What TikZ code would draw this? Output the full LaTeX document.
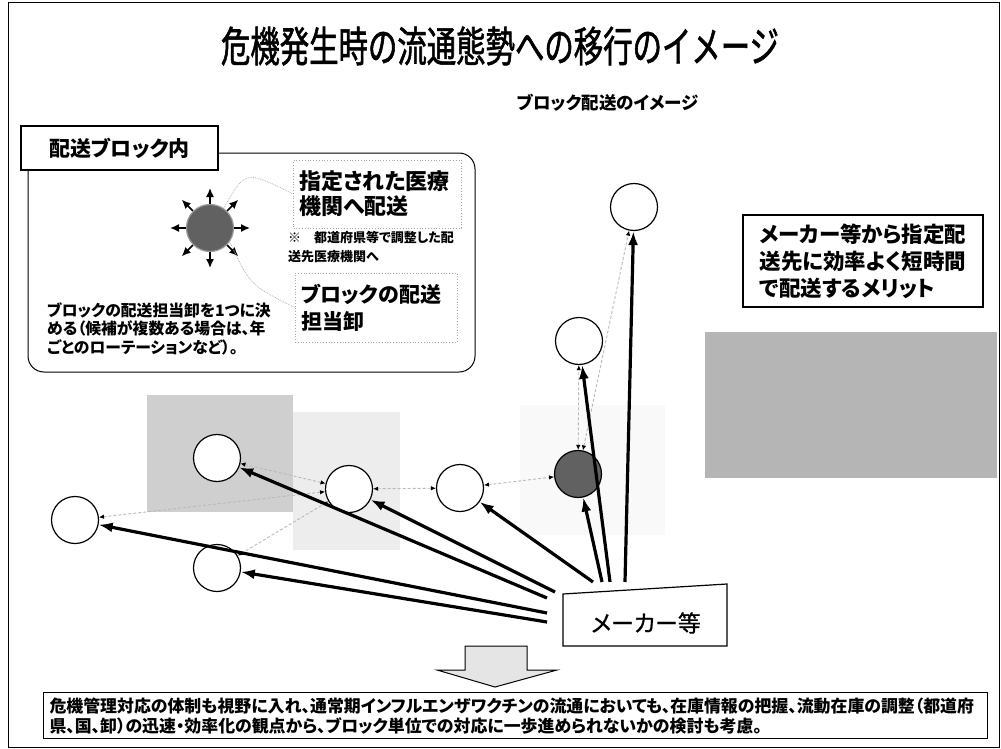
\documentclass[tikz,border=0pt]{standalone}
\usepackage{fontspec}
\setmainfont{Noto Sans CJK JP}[RawFeature={+palt}]
\newfontfamily\titlefont{Noto Sans CJK JP}[FakeStretch=0.7, FakeBold=1.3]
\newfontfamily\makerfont{Noto Sans CJK JP}[RawFeature={+palt}, FakeBold=0.8]
\usetikzlibrary{arrows.meta,calc}
\begin{document}
\begin{tikzpicture}[x=1pt,y=-1pt,
  site/.style={circle, draw, line width=1.2pt, minimum size=47pt, inner sep=0pt, fill=white},
  hub/.style={site, fill=black!62},
  feed/.style={line width=3.2pt, -{Latex[length=14pt,width=10pt]}},
  link/.style={gray!55, densely dashed, line width=0.9pt,
    {Latex[length=5pt,width=4.5pt,color=black]}-{Latex[length=5pt,width=4.5pt,color=black]}},
  ray/.style={line width=1.5pt, -{Latex[length=9pt,width=8pt]}},
  callout/.style={gray!60, densely dotted, line width=0.8pt},
  dotbox/.style={draw=gray!70, dotted, line width=0.8pt, inner xsep=6pt, inner ysep=4pt, align=left},
  bt/.style 2 args={font=\bfseries\fontsize{#1}{#2}\selectfont}
]
\useasboundingbox (0,0) rectangle (1001,749);
\draw[line width=1pt] (8,3) rectangle (999,747);

% background textures
\fill[gray!5] (520,405) rectangle (665,535);
\fill[gray!14] (293,412) rectangle (400,550);
\fill[gray!38] (147,395) rectangle (293,512);
\node[fill=gray!58, minimum width=292pt, minimum height=146pt, inner sep=0pt] (gbox) at (851,405) {};

% title
\node[font=\titlefont\fontsize{42}{46}\selectfont] (title) at (500,46) {危機発生時の流通態勢への移行のイメージ};
\node[bt={17.5}{20}] (sub) at (608,103) {ブロック配送のイメージ};

% left panel
\node[draw, line width=1pt, rounded corners=16pt, minimum width=447pt, minimum height=219pt, inner sep=0pt] (panel) at (251.5,262.5) {};
\node[draw, line width=2.8pt, fill=white, minimum width=197pt, minimum height=44pt, bt={21}{24}] (hdr) at (119.5,148) {配送ブロック内};
\node[hub, minimum size=47pt, draw=gray!80] (sun) at (210,228) {};
\foreach \a in {0,45,...,315}
  \draw[ray] (sun.\a) -- ($(sun.center)!40pt!(sun.\a)$);
\node[dotbox, text width=156pt, minimum height=68pt, bt={22}{25}] (b1) at (377.5,194) {指定された医療\\機関へ配送};
\node[anchor=west, align=left, bt={13}{19}, inner sep=0pt] (note) at (288,247) {※\quad 都道府県等で調整した配\\送先医療機関へ};
\node[dotbox, text width=150pt, minimum height=69pt, bt={21}{27}] (b2) at (376,307.5) {ブロックの配送\\担当卸};
\draw[callout] (sun.55) .. controls (245,170) .. (b1.west);
\draw[callout] (sun.-35) .. controls (250,285) .. (b2.west);
\node[anchor=north west, align=left, bt={15.8}{18.5}, inner sep=0pt] (lt) at (47,302) {ブロックの配送担当卸を1つに決\\める（候補が複数ある場合は、年\\ごとのローテーションなど）。};

% right box
\node[draw, line width=1.5pt, minimum width=240pt, minimum height=92pt, align=left, bt={21.5}{27}] (merit) at (863,261) {メーカー等から指定配\\送先に効率よく短時間\\で配送するメリット};

% sites
\node[site] (c1) at (75,520) {};
\node[site] (c2) at (217,458) {};
\node[site] (c3) at (349,489) {};
\node[site] (c4) at (460,488) {};
\node[site] (c5) at (217,568) {};
\node[hub] (c6) at (578,474) {};
\node[site] (c7) at (579,341) {};
\node[site] (c8) at (634,207) {};

% dashed links between sites
\draw[link] (c1) -- (c3);
\draw[link] (c5) -- (c3);
\draw[link] (c2) -- (c3);
\draw[link] (c3) -- (c4);
\draw[link] (c4) -- (c6);
\draw[link] (c6) -- (c7);
\draw[link] (c6) -- (c8);

% maker box
\draw[line width=1.2pt, fill=white] (563,594) -- (727,584) -- (727,646) -- (563,646) -- cycle;
\node[font=\makerfont\fontsize{23}{26}\selectfont] (maker) at (646,623) {メーカー等};
\coordinate (m1) at (547,613);
\coordinate (m2) at (547,622);
\coordinate (m3) at (547,598);
\coordinate (m4) at (555,592);
\coordinate (m5) at (593,582);
\coordinate (m6) at (602,582);
\coordinate (m7) at (610,582);
\coordinate (m8) at (625,582);
\draw[feed] (m1) -- (c1);
\draw[feed] (m2) -- (c5);
\draw[feed] (m3) -- (c2);
\draw[feed] (m4) -- (c3);
\draw[feed] (m5) -- (c4);
\draw[feed] (m6) -- (c6);
\draw[feed] (m7) -- (c7);
\draw[feed] (m8) -- (c8);

% down arrow
\draw[line width=1pt, fill=gray!20] (465,646) -- (527,646) -- (527,670) -- (557,670) -- (495,687) -- (437,670) -- (465,670) -- cycle;

% bottom box
\node[draw, line width=1pt, anchor=north west, text width=932pt, inner xsep=6pt, inner ysep=5pt, align=left, bt={16.9}{20}] (concl) at (43,692) {危機管理対応の体制も視野に入れ、通常期インフルエンザワクチンの流通においても、在庫情報の把握、流動在庫の調整（都道府\\県、国、卸）の迅速・効率化の観点から、ブロック単位での対応に一歩進められないかの検討も考慮。};
\end{tikzpicture}
\end{document}
